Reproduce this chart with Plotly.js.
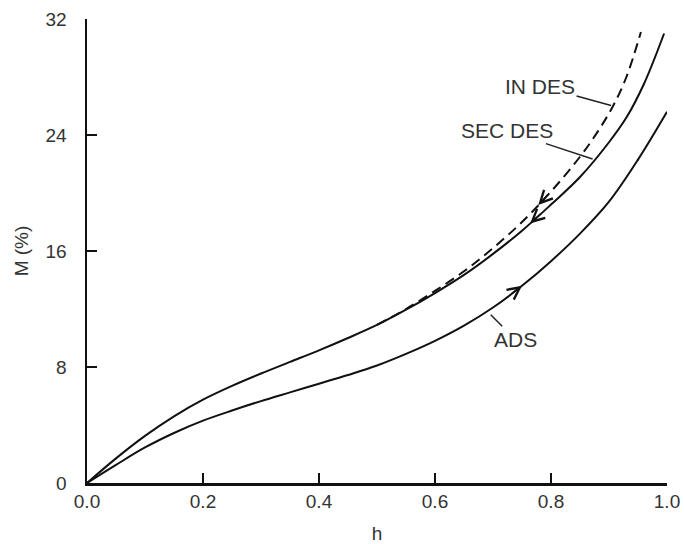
<!DOCTYPE html>
<html>
<head>
<meta charset="utf-8">
<script src="https://cdn.plot.ly/plotly-3.0.1.min.js"></script>
<style>html,body{margin:0;padding:0;background:#fff}#chart{width:684px;height:544px}</style>
</head>
<body>
<div id="chart"></div>
<script>
// Adsorption curve
const adsH = [0, 0.05, 0.1, 0.15, 0.2, 0.25, 0.3, 0.35, 0.4, 0.45, 0.5, 0.55, 0.6, 0.65, 0.7, 0.75, 0.8, 0.85, 0.9, 0.95, 1.0];
const adsM = [0, 1.25, 2.45, 3.45, 4.3, 5.0, 5.65, 6.25, 6.85, 7.45, 8.1, 8.9, 9.8, 10.85, 12.1, 13.6, 15.3, 17.2, 19.4, 22.3, 25.6];
// Secondary desorption curve
const secH = [0, 0.05, 0.1, 0.15, 0.2, 0.25, 0.3, 0.35, 0.4, 0.45, 0.5, 0.55, 0.6, 0.65, 0.7, 0.75, 0.8, 0.85, 0.9, 0.93, 0.96, 0.995];
const secM = [0, 1.7, 3.25, 4.6, 5.75, 6.7, 7.55, 8.35, 9.15, 10.0, 10.9, 11.95, 13.1, 14.35, 15.8, 17.4, 19.2, 21.1, 23.5, 25.2, 27.5, 31.0];
// Initial desorption curve (dashed; follows the secondary desorption curve below h = 0.5)
const inH = [0.5, 0.55, 0.6, 0.65, 0.7, 0.75, 0.8, 0.85, 0.88, 0.907, 0.93, 0.955];
const inM = [10.9, 12.0, 13.25, 14.6, 16.2, 18.0, 20.1, 22.5, 24.2, 26.0, 28.0, 31.1];

const xTicks = [0, 0.2, 0.4, 0.6, 0.8, 1.0];
const xTickText = ['0.0', '0.2', '0.4', '0.6', '0.8', '1.0'];
const yTicks = [0, 8, 16, 24, 32];

const FONT = 'Liberation Sans, Arial, Helvetica, sans-serif';
const traces = [
  {x: adsH, y: adsM, mode: 'lines', line: {color: '#111', width: 2, shape: 'spline', smoothing: 1}, name: 'ADS'},
  {x: secH, y: secM, mode: 'lines', line: {color: '#111', width: 2, shape: 'spline', smoothing: 1}, name: 'SEC DES'},
  {x: inH, y: inM, mode: 'lines', line: {color: '#111', width: 2, dash: '10px,6px', shape: 'spline', smoothing: 1}, name: 'IN DES'}
];

const labelFont = {family: FONT, size: 21, color: '#333'};
const tickFont = {family: FONT, size: 19, color: '#333'};

// point at fraction f between points i and j of a curve
function along(hArr, mArr, i, j, f) {
  return [hArr[i] + f * (hArr[j] - hArr[i]), mArr[i] + f * (mArr[j] - mArr[i])];
}
function dirArrow(hArr, mArr, i, j, fHead, fTail) {
  const head = along(hArr, mArr, i, j, fHead);
  const tail = along(hArr, mArr, i, j, fTail);
  return {
    x: head[0], y: head[1], ax: tail[0], ay: tail[1],
    axref: 'x', ayref: 'y', xref: 'x', yref: 'y',
    text: '', showarrow: true, arrowhead: 5, arrowsize: 1.5, arrowwidth: 1.6, arrowcolor: '#111'
  };
}
function leader(hArr, mArr, i, j, f, txt, ax, ay, standoff) {
  const p = along(hArr, mArr, i, j, f);
  return {
    x: p[0], y: p[1], xref: 'x', yref: 'y', ax: ax, ay: ay,
    text: txt, showarrow: true, arrowhead: 0, arrowwidth: 1.5, arrowcolor: '#222',
    standoff: standoff, font: labelFont
  };
}

const annotations = [
  dirArrow(inH, inM, 5, 6, 0.56, 0.95),
  dirArrow(secH, secM, 15, 16, 0.28, 0.7),
  dirArrow(adsH, adsM, 15, 14, 0.0, 0.4),
  leader(inH, inM, 9, 10, 0.0, 'IN DES', -73, -20, 2),
  leader(secH, secM, 17, 18, 0.5, 'SEC DES', -88, -29, 2),
  leader(adsH, adsM, 13, 14, 0.8, 'ADS', 28, 28, 5)
];

const layout = {
  width: 684, height: 544,
  margin: {l: 87, r: 17, t: 19, b: 61},
  paper_bgcolor: '#fff', plot_bgcolor: '#fff',
  showlegend: false,
  font: labelFont,
  xaxis: {
    range: [0, 1], tickvals: xTicks, ticktext: xTickText,
    showline: true, linewidth: 2.5, linecolor: '#111', mirror: false,
    ticks: 'inside', ticklen: 10, tickwidth: 2, tickcolor: '#111',
    showgrid: false, zeroline: false,
    tickfont: tickFont,
    title: {text: 'h', font: {family: FONT, size: 19, color: '#333'}, standoff: 18}
  },
  yaxis: {
    range: [0, 32], tickvals: yTicks,
    showline: true, linewidth: 2.5, linecolor: '#111', mirror: false,
    ticks: 'inside', ticklen: 10, tickwidth: 2, tickcolor: '#111',
    showgrid: false, zeroline: false, ticklabelstandoff: 14,
    tickfont: tickFont,
    title: {text: 'M (%)', font: {family: FONT, size: 19, color: '#333'}, standoff: 12}
  },
  annotations: annotations
};

Plotly.newPlot('chart', traces, layout, {displayModeBar: false, staticPlot: true});
</script>
</body>
</html>
